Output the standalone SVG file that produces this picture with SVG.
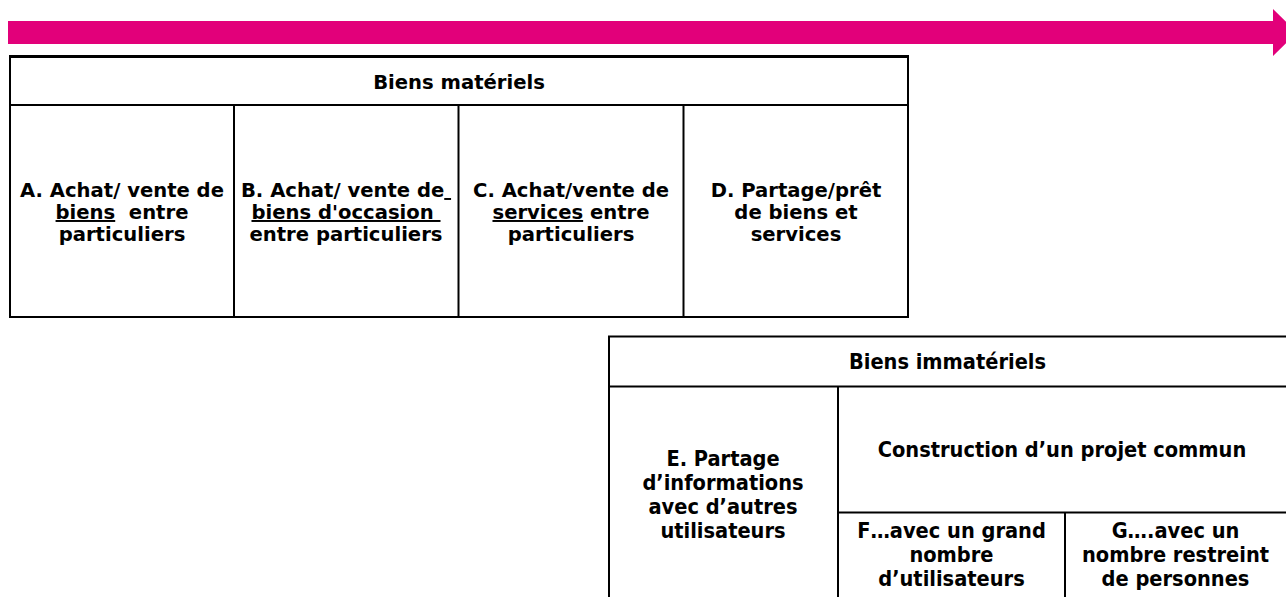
<svg xmlns="http://www.w3.org/2000/svg" width="1286" height="597" viewBox="0 0 1286 597">
<style>
.ln{stroke:#000;stroke-width:2;fill:none}
.t{font-family:"DejaVu Sans","Verdana",sans-serif;font-weight:bold;font-size:19.6px;fill:#000;text-anchor:middle}
.c{font-family:"DejaVu Sans Condensed","DejaVu Sans",sans-serif;font-stretch:condensed;font-weight:bold;font-size:21.6px;fill:#000;text-anchor:middle}
.u{text-decoration:underline}
</style>
<rect width="1286" height="597" fill="#fff"/>
<g id="arrow">
<polygon points="8,21 1273,21 1273,9 1297,32.5 1273,56 1273,44 8,44" fill="#E2007A"/>
</g>
<g id="connectors"></g>
<g id="table-materiels">
<rect class="ln" x="10" y="56.5" width="898" height="260.5"/>
<line x1="9" y1="56.5" x2="909" y2="56.5" stroke="#000" stroke-width="3"/>
<line class="ln" x1="10" y1="105" x2="908" y2="105"/>
<line class="ln" x1="234" y1="105" x2="234" y2="317"/>
<line class="ln" x1="458.5" y1="105" x2="458.5" y2="317"/>
<line class="ln" x1="683.5" y1="105" x2="683.5" y2="317"/>
</g>
<g id="header-materiels"><text class="t" x="459" y="89">Biens matériels</text></g>
<g id="node-A"><text class="t" x="122" y="197">A. Achat/ vente de</text><text class="t" x="122" y="219"><tspan class="u">biens</tspan>&#160; entre</text><text class="t" x="122" y="241">particuliers</text></g>
<g id="node-B"><text class="t" x="346" y="197">B. Achat/ vente de<tspan class="u">&#160;</tspan></text><text class="t" x="346" y="219"><tspan class="u">biens d'occasion&#160;</tspan></text><text class="t" x="346" y="241">entre particuliers</text></g>
<g id="node-C"><text class="t" x="571" y="197">C. Achat/vente de</text><text class="t" x="571" y="219"><tspan class="u">services</tspan> entre</text><text class="t" x="571" y="241">particuliers</text></g>
<g id="node-D"><text class="t" x="796" y="197">D. Partage/prêt</text><text class="t" x="796" y="219">de biens et</text><text class="t" x="796" y="241">services</text></g>
<g id="table-immateriels">
<line class="ln" x1="608" y1="336.5" x2="1286" y2="336.5"/>
<line class="ln" x1="609" y1="336.5" x2="609" y2="597"/>
<line class="ln" x1="609" y1="386.5" x2="1286" y2="386.5"/>
<line class="ln" x1="838" y1="386.5" x2="838" y2="597"/>
<line class="ln" x1="838" y1="512.5" x2="1286" y2="512.5"/>
<line class="ln" x1="1065" y1="512.5" x2="1065" y2="597"/>
</g>
<g id="header-immateriels"><text class="c" x="947.5" y="369">Biens immatériels</text></g>
<g id="node-E"><text class="c" x="723" y="466">E. Partage</text><text class="c" x="723" y="490">d’informations</text><text class="c" x="723" y="514">avec d’autres</text><text class="c" x="723" y="538">utilisateurs</text></g>
<g id="node-projet"><text class="c" x="1062" y="457">Construction d’un projet commun</text></g>
<g id="node-F"><text class="c" x="951.5" y="538">F…avec un grand</text><text class="c" x="951.5" y="562">nombre</text><text class="c" x="951.5" y="586">d’utilisateurs</text></g>
<g id="node-G"><text class="c" x="1175.5" y="538">G….avec un</text><text class="c" x="1175.5" y="562">nombre restreint</text><text class="c" x="1175.5" y="586">de personnes</text></g>
</svg>
